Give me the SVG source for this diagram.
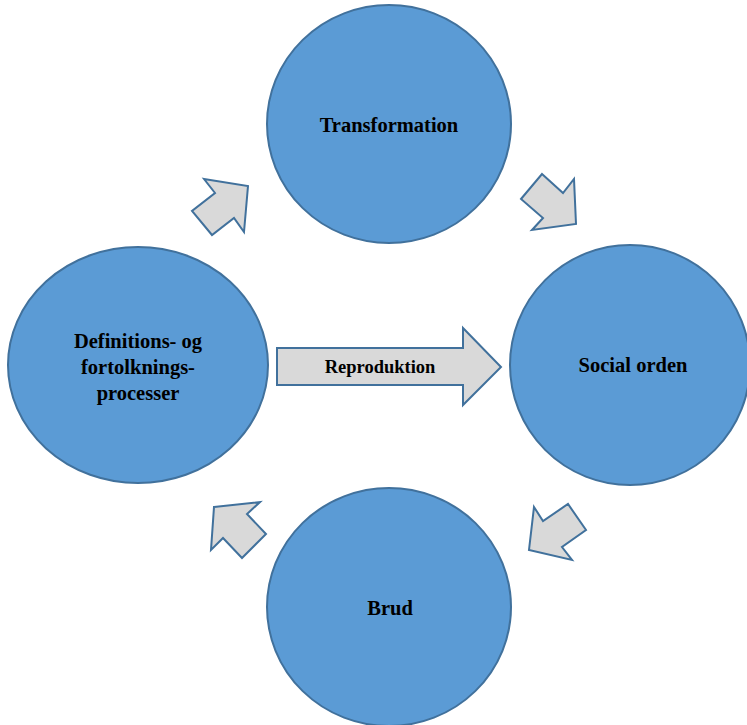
<svg xmlns="http://www.w3.org/2000/svg" width="747" height="725" viewBox="0 0 747 725">
<style>
.c{fill:#5B9BD5;stroke:#41719C;stroke-width:2}
.a{fill:#D9D9D9;stroke:#41719C;stroke-width:2;stroke-linejoin:miter}
.t{font-family:"Liberation Serif",serif;font-weight:bold;font-size:20.5px;fill:#000;text-anchor:middle}
</style>
<rect width="747" height="725" fill="#fff"/>
<g id="connectors">
<polygon class="a" points="204,179 248,186 244,232 234,218 212,235 192,211 215,193"/>
<polygon class="a" points="542,174 563,193 574,179 576,224 532,230 543,218 521,199"/>
<polygon class="a" points="534,507 543,521 568,504 586,530 562,547 572,560 529,550"/>
<polygon class="a" points="214,507 260,502 247,514 266,534 242,558 223,538 211,550"/>
<g id="reproduktion">
<polygon class="a" points="277,348 463,348 463,328 501,367 463,405 463,385 277,385"/>
<text class="t" x="380" y="373" style="font-size:18.5px">Reproduktion</text>
</g>
</g>
<g id="transformation">
<ellipse class="c" cx="389" cy="124" rx="122" ry="119"/>
<text class="t" x="389" y="132">Transformation</text>
</g>
<g id="social-orden">
<ellipse class="c" cx="630" cy="365" rx="120" ry="120"/>
<text class="t" x="633" y="372">Social orden</text>
</g>
<g id="brud">
<ellipse class="c" cx="389" cy="607" rx="122" ry="119"/>
<text class="t" x="390" y="615">Brud</text>
</g>
<g id="definitions">
<ellipse class="c" cx="138" cy="365" rx="130" ry="118"/>
<text class="t" x="138" y="348">Definitions- og</text>
<text class="t" x="138" y="374">fortolknings-</text>
<text class="t" x="138" y="400">processer</text>
</g>
</svg>
